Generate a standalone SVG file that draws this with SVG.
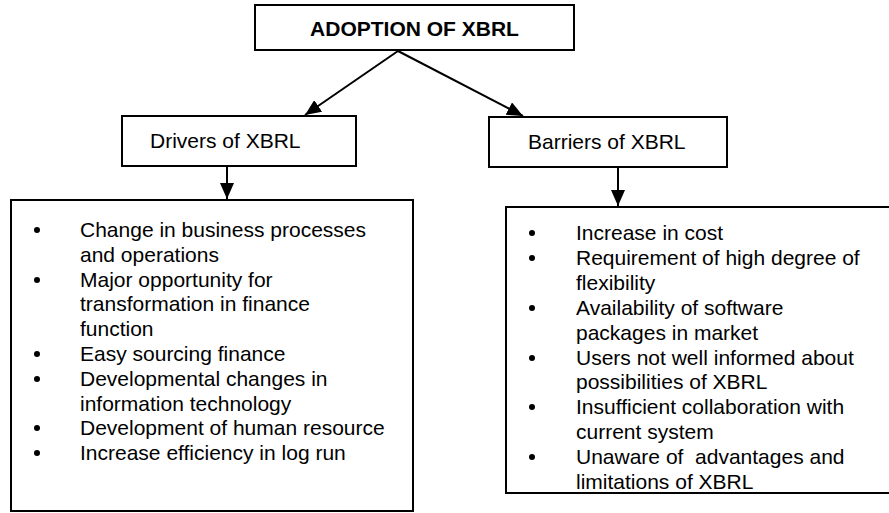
<svg xmlns="http://www.w3.org/2000/svg" width="889" height="513" viewBox="0 0 889 513">
  <defs>
    <marker id="arrow" viewBox="0 0 16 14" refX="16" refY="7" markerWidth="16" markerHeight="14" markerUnits="userSpaceOnUse" orient="auto">
      <path d="M0,0 L16,7 L0,14 Z" fill="#000"/>
    </marker>
  </defs>
  <style>
    .box { fill: #fff; stroke: #000; stroke-width: 2; }
    .t { font-family: "Liberation Sans", Arial, sans-serif; font-size: 21px; fill: #000; }
    .b { font-weight: bold; }
    .dot { fill: #000; }
    .conn { stroke: #000; stroke-width: 2; fill: none; marker-end: url(#arrow); }
  </style>
  <rect width="889" height="513" fill="#fff"/>

  <g id="adoption">
    <rect class="box" x="255" y="5" width="319" height="45"/>
    <text class="t b" x="414.5" y="36" text-anchor="middle">ADOPTION OF XBRL</text>
  </g>

  <g id="drivers">
    <rect class="box" x="122" y="116" width="234" height="50"/>
    <text class="t" x="150" y="148">Drivers of XBRL</text>
  </g>

  <g id="barriers">
    <rect class="box" x="489" y="117" width="238" height="50"/>
    <text class="t" x="528" y="149">Barriers of XBRL</text>
  </g>

  <g id="drivers-list">
    <rect class="box" x="11" y="200" width="402" height="311"/>
    <circle class="dot" cx="37" cy="230" r="3"/>
    <circle class="dot" cx="37" cy="280" r="3"/>
    <circle class="dot" cx="37" cy="354" r="3"/>
    <circle class="dot" cx="37" cy="379" r="3"/>
    <circle class="dot" cx="37" cy="428" r="3"/>
    <circle class="dot" cx="37" cy="453" r="3"/>
    <text class="t" x="80" y="237">Change in business processes</text>
    <text class="t" x="80" y="262">and operations</text>
    <text class="t" x="80" y="287">Major opportunity for</text>
    <text class="t" x="80" y="311">transformation in finance</text>
    <text class="t" x="80" y="336">function</text>
    <text class="t" x="80" y="361">Easy sourcing finance</text>
    <text class="t" x="80" y="386">Developmental changes in</text>
    <text class="t" x="80" y="411">information technology</text>
    <text class="t" x="80" y="435">Development of human resource</text>
    <text class="t" x="80" y="460">Increase efficiency in log run</text>
  </g>

  <g id="barriers-list">
    <rect class="box" x="506" y="207" width="386" height="286"/>
    <circle class="dot" cx="532" cy="233" r="3"/>
    <circle class="dot" cx="532" cy="258" r="3"/>
    <circle class="dot" cx="532" cy="308" r="3"/>
    <circle class="dot" cx="532" cy="358" r="3"/>
    <circle class="dot" cx="532" cy="407" r="3"/>
    <circle class="dot" cx="532" cy="457" r="3"/>
    <text class="t" x="576" y="240">Increase in cost</text>
    <text class="t" x="576" y="265">Requirement of high degree of</text>
    <text class="t" x="576" y="290">flexibility</text>
    <text class="t" x="576" y="315">Availability of software</text>
    <text class="t" x="576" y="340">packages in market</text>
    <text class="t" x="576" y="365">Users not well informed about</text>
    <text class="t" x="576" y="389">possibilities of XBRL</text>
    <text class="t" x="576" y="414">Insufficient collaboration with</text>
    <text class="t" x="576" y="439">current system</text>
    <text class="t" x="576" y="464" xml:space="preserve">Unaware of  advantages and</text>
    <text class="t" x="576" y="489">limitations of XBRL</text>
  </g>

  <g id="connectors">
    <line class="conn" x1="398" y1="51" x2="305" y2="115"/>
    <line class="conn" x1="398" y1="51" x2="523" y2="116"/>
    <line class="conn" x1="227" y1="166" x2="227" y2="199"/>
    <line class="conn" x1="618" y1="167" x2="618" y2="206"/>
  </g>
</svg>
